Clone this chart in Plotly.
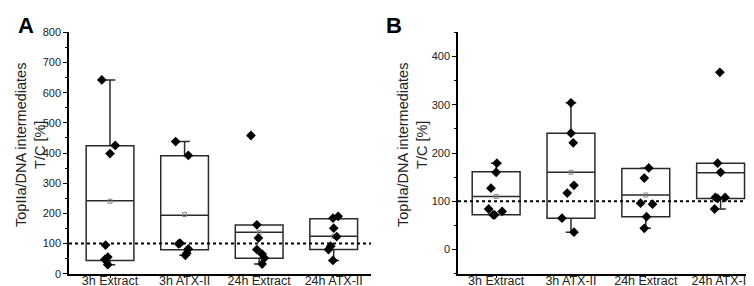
import plotly.graph_objects as go

categories = ["3h Extract", "3h ATX-II", "24h Extract", "24h ATX-II"]

# Panel A: individual values (T/C %) and horizontal jitter of each point
a_values = [
    [642, 425, 398, 95, 55, 47, 30],
    [438, 392, 101, 99, 82, 68, 61],
    [458, 162, 118, 80, 65, 52, 32],
    [190, 184, 151, 123, 91, 80, 44],
]
a_jitter = [
    [-0.11, 0.07, 0.0, -0.06, -0.03, -0.07, -0.03],
    [-0.12, 0.05, -0.06, -0.08, 0.05, 0.03, 0.01],
    [-0.11, -0.03, -0.01, -0.03, 0.04, 0.07, 0.04],
    [0.06, -0.01, 0.0, 0.04, -0.04, -0.07, -0.01],
]
a_q1 = [44, 79, 51, 80]
a_median = [242, 194, 137, 124]
a_q3 = [424, 391, 161, 182]
a_lower = [30, 61, 32, 44]
a_upper = [642, 438, 161, 182]
a_mean = [240, 196, 137, 124]

# Panel B
b_values = [
    [179, 160, 127, 84, 72, 72, 79],
    [304, 241, 221, 133, 117, 65, 36],
    [169, 148, 96, 94, 68, 44],
    [367, 179, 160, 108, 108, 106, 84],
]
b_jitter = [
    [0.01, 0.0, -0.07, -0.10, -0.04, -0.02, 0.08],
    [0.0, 0.0, 0.03, 0.04, -0.05, -0.12, 0.04],
    [0.04, -0.02, -0.07, 0.09, 0.01, -0.02],
    [-0.01, -0.04, 0.0, -0.07, 0.06, -0.04, -0.08],
]
b_q1 = [72, 65, 68, 106]
b_median = [110, 160, 113, 159]
b_q3 = [161, 241, 168, 179]
b_lower = [72, 36, 44, 84]
b_upper = [179, 304, 169, 179]
b_mean = [110, 160, 113, 159]

reference_level = 100
y_title = "TopIIa/DNA intermediates<br>T/C [%]"

positions = [1, 2, 3, 4]
line_col = "#2a2a2a"
text_col = "#222222"
font_family = "Liberation Sans, Arial, sans-serif"
W, H = 754, 286

fig = go.Figure()


def add_panel(xa, ya, values, jitter, q1, med, q3, lo, hi, mean):
    fig.add_trace(go.Box(
        x=positions, q1=q1, median=med, q3=q3, lowerfence=lo, upperfence=hi,
        width=0.64, whiskerwidth=0.22, fillcolor="rgba(0,0,0,0)",
        line=dict(color=line_col, width=1.5), boxpoints=False,
        xaxis=xa, yaxis=ya, showlegend=False, hoverinfo="skip",
    ))
    fig.add_trace(go.Scatter(
        x=positions, y=mean, mode="markers",
        marker=dict(symbol="square", size=4, color="rgba(0,0,0,0)",
                    line=dict(color="#888888", width=1)),
        xaxis=xa, yaxis=ya, showlegend=False, hoverinfo="skip",
    ))
    xs, ys = [], []
    for p, vals, jit in zip(positions, values, jitter):
        for v, j in zip(vals, jit):
            xs.append(p + j)
            ys.append(v)
    fig.add_trace(go.Scatter(
        x=xs, y=ys, mode="markers",
        marker=dict(symbol="diamond", size=7.5, color="black"),
        xaxis=xa, yaxis=ya, showlegend=False, hoverinfo="skip",
    ))
    fig.add_shape(type="line", xref=f"{xa} domain", yref=ya,
                  x0=0, x1=1, y0=reference_level, y1=reference_level,
                  line=dict(color="black", width=2, dash="dot"))


add_panel("x", "y", a_values, a_jitter, a_q1, a_median, a_q3, a_lower, a_upper, a_mean)
add_panel("x2", "y2", b_values, b_jitter, b_q1, b_median, b_q3, b_lower, b_upper, b_mean)

ydom = [1 - 265.7 / H, 1 - 24.3 / H]
xcommon = dict(tickmode="array", tickvals=positions, ticktext=categories,
               showline=True, linecolor="black", linewidth=1.5,
               ticks="outside", ticklen=3, tickwidth=1, tickcolor="black",
               ticklabelstandoff=-8,
               showgrid=False, zeroline=False, automargin=False,
               tickfont=dict(size=12.5, color=text_col, family=font_family))
ycommon = dict(showline=True, linecolor="black", linewidth=1.5,
               ticks="outside", ticklen=4, tickwidth=1, tickcolor="black",
               showgrid=False, zeroline=False, automargin=False,
               minor=dict(ticks="outside", ticklen=2, dtick=50, tickcolor="black"),
               tickfont=dict(size=11, color=text_col, family=font_family))

fig.update_layout(
    width=W, height=H, margin=dict(l=0, r=0, t=0, b=0),
    plot_bgcolor="white", paper_bgcolor="white",
    xaxis=dict(domain=[61 / W, 363 / W], range=[0.45, 4.5], anchor="y", **xcommon),
    yaxis=dict(domain=ydom, range=[0, 800], dtick=100, anchor="x", **ycommon),
    xaxis2=dict(domain=[450 / W, 753 / W], range=[0.49, 4.54], anchor="y2", **xcommon),
    yaxis2=dict(domain=ydom, range=[-50, 450], tickvals=[0, 100, 200, 300, 400],
                anchor="x2", **ycommon),
)

for label, lx, tx in [("A", 8, 23), ("B", 376, 405)]:
    fig.add_annotation(text=f"<b>{label}</b>", x=lx / W, y=1 - 3 / H, xref="paper", yref="paper",
                       xanchor="left", yanchor="top", showarrow=False,
                       font=dict(size=22, color="black", family=font_family))
    fig.add_annotation(text=y_title, x=tx / W, y=1 - 137 / H, xref="paper", yref="paper",
                       xanchor="center", yanchor="middle", textangle=-90, showarrow=False,
                       font=dict(size=14.5, color=text_col, family=font_family))

fig.write_html("out.html")
